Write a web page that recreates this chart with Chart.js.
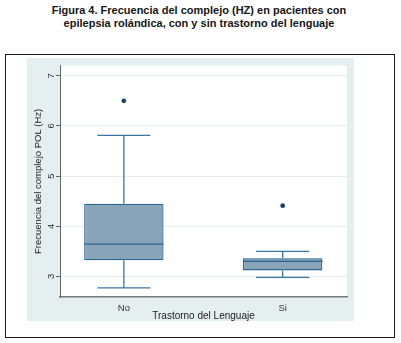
<!DOCTYPE html>
<html>
<head>
<meta charset="utf-8">
<script src="https://cdn.jsdelivr.net/npm/chart.js@4.4.1/dist/chart.umd.min.js"></script>
<style>
  html, body { margin: 0; padding: 0; background: #fff; }
  body { width: 401px; height: 343px; position: relative; overflow: hidden; font-family: "Liberation Sans", Arial, sans-serif; }
  .title { position: absolute; left: 0; top: 4px; width: 398px; text-align: center; font-weight: bold; font-size: 11px; line-height: 13px; color: #161616; }
  .frame { position: absolute; left: 5px; top: 54px; width: 390px; height: 284px; box-sizing: border-box; border: 1.5px solid #1a1a1a; }
  .panel { position: absolute; left: 27px; top: 58px; width: 327px; height: 263px; background: #e5eff0; }
  canvas { display: block; }
</style>
</head>
<body>
<div class="title">Figura 4. Frecuencia del complejo (HZ) en pacientes con<br>epilepsia rolándica, con y sin trastorno del lenguaje</div>
<div class="frame"></div>
<div class="panel"><canvas id="chart" width="327" height="263"></canvas></div>
<script>
// box plot summary per group (Hz)
const groups = ['No', 'Si'];
const whiskerLow = [2.77, 2.98];
const q1 = [3.32, 3.12];
const median = [3.645, 3.30];
const q3 = [4.45, 3.36];
const whiskerHigh = [5.81, 3.50];
const outliers = [6.5, 4.41];
const yTicks = [3, 4, 5, 6, 7];

const boxHalf = 0.25;
const capHalf = 0.167;
const xPos = groups.map((g, i) => i + 1);

// whiskers + caps as one broken line
const whiskerPts = [];
const medianPts = [];
xPos.forEach((x, i) => {
    whiskerPts.push(
        {x: x, y: q3[i]}, {x: x, y: whiskerHigh[i]}, {x: x, y: null},
        {x: x - capHalf, y: whiskerHigh[i]}, {x: x + capHalf, y: whiskerHigh[i]}, {x: x, y: null},
        {x: x, y: q1[i]}, {x: x, y: whiskerLow[i]}, {x: x, y: null},
        {x: x - capHalf, y: whiskerLow[i]}, {x: x + capHalf, y: whiskerLow[i]}, {x: x, y: null}
    );
    medianPts.push({x: x - boxHalf, y: median[i]}, {x: x + boxHalf, y: median[i]}, {x: x, y: null});
});

const plotBackground = {
    id: 'plotBackground',
    beforeDraw(chart) {
        const {ctx, chartArea: a} = chart;
        ctx.save();
        ctx.fillStyle = '#ffffff';
        ctx.fillRect(a.left, a.top, a.right - a.left, a.bottom - a.top);
        ctx.restore();
    }
};

new Chart(document.getElementById('chart'), {
    type: 'scatter',
    data: {
        datasets: [
            {
                data: outliers.map((v, i) => ({x: xPos[i], y: v})),
                pointRadius: 2.4,
                pointBackgroundColor: '#1c416c',
                pointBorderWidth: 0,
                order: 0
            },
            {
                data: medianPts,
                showLine: true,
                pointRadius: 0,
                borderColor: '#2c6590',
                borderWidth: 1.3,
                order: 1
            },
            {
                data: whiskerPts,
                showLine: true,
                pointRadius: 0,
                borderColor: '#3a76a2',
                borderWidth: 1.3,
                order: 2
            },
            {
                type: 'bar',
                data: xPos.map((x, i) => ({x: x, y: [q1[i], q3[i]]})),
                backgroundColor: '#88a4b8',
                borderColor: '#2e6892',
                borderWidth: 1.3,
                borderSkipped: false,
                categoryPercentage: 1,
                barPercentage: 0.5,
                order: 3
            }
        ]
    },
    options: {
        responsive: false,
        animation: false,
        layout: { padding: { top: 5, right: 7, left: 0, bottom: 0 } },
        plugins: {
            legend: { display: false },
            tooltip: { enabled: false }
        },
        scales: {
            x: {
                type: 'linear',
                offset: false,
                min: 0.598,
                max: 2.405,
                afterBuildTicks: (scale) => { scale.ticks = xPos.map(v => ({value: v})); },
                afterFit: (scale) => { scale.height = 24; },
                grid: { display: false, drawTicks: false, offset: false },
                border: { display: true, color: '#7a7a7a', width: 1.5 },
                ticks: {
                    padding: 6,
                    color: '#333',
                    font: { family: 'Liberation Sans', size: 9.5 },
                    callback: (v) => groups[v - 1]
                },
                title: {
                    display: true,
                    text: 'Trastorno del Lenguaje',
                    color: '#222',
                    font: { family: 'Liberation Sans', size: 10, lineHeight: 1 },
                    padding: { top: 0, bottom: 0 }
                }
            },
            y: {
                min: 2.59,
                max: 7.2,
                afterBuildTicks: (scale) => { scale.ticks = yTicks.map(v => ({value: v})); },
                afterFit: (scale) => { scale.width = 33; },
                grid: { color: '#e4eced', lineWidth: 1, tickLength: 4, tickColor: '#666' },
                border: { display: true, color: '#666', width: 1 },
                ticks: {
                    minRotation: 90,
                    maxRotation: 90,
                    crossAlign: 'center',
                    padding: 2,
                    color: '#333',
                    font: { family: 'Liberation Sans', size: 9.5 }
                },
                title: {
                    display: true,
                    text: 'Frecuencia del complejo POL (Hz)',
                    color: '#222',
                    font: { family: 'Liberation Sans', size: 9.5, lineHeight: 1 },
                    padding: { top: 7, bottom: 0 }
                }
            }
        }
    },
    plugins: [plotBackground]
});
</script>
</body>
</html>
